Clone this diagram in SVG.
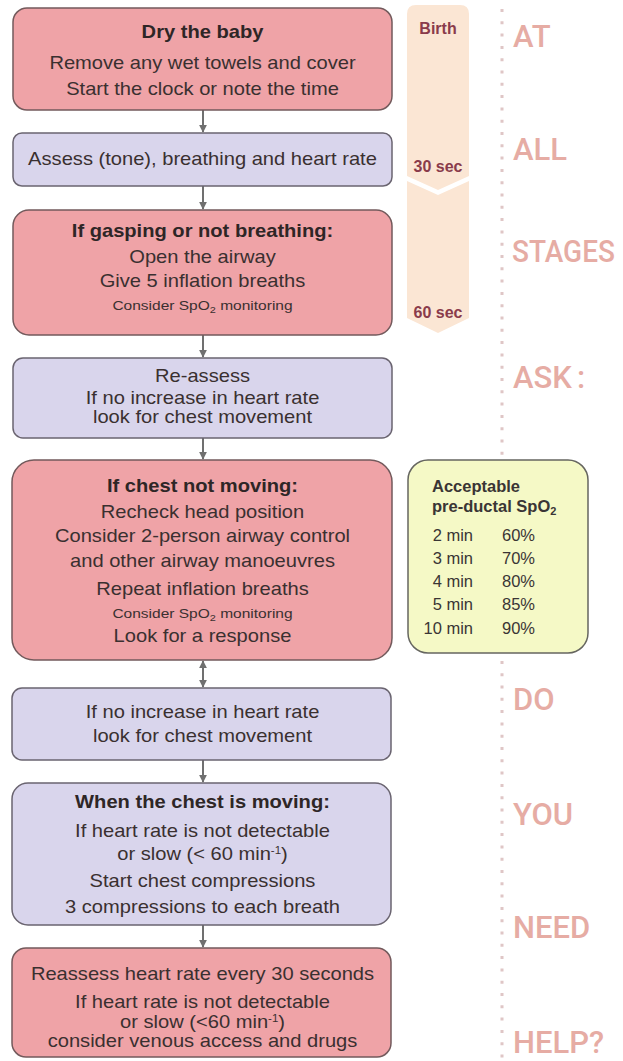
<svg xmlns="http://www.w3.org/2000/svg" width="623" height="1061" viewBox="0 0 623 1061">
<defs>
<style>
.pink{fill:#efa3a7;stroke:#735a5c;stroke-width:1.5}
.lav{fill:#d9d5ec;stroke:#6a6470;stroke-width:1.5}
.t{font-family:"Liberation Sans",Arial,sans-serif;font-size:17.5px;fill:#3a3030;text-anchor:middle}
.b{font-weight:bold;fill:#2e2626}
.s{font-size:13.5px}
.tl{font-family:"Liberation Sans",Arial,sans-serif;font-size:16px;font-weight:bold;fill:#8a3b4b;text-anchor:middle}
.big{font-family:Roboto,"Liberation Sans",sans-serif;font-size:31px;font-weight:500;fill:#e6aca4}
.sp{font-family:"Liberation Sans",Arial,sans-serif;font-size:16.5px;fill:#3a3535}
.conn{stroke:#707070;stroke-width:2;fill:none}
</style>
<marker id="ah" viewBox="0 0 10 10" refX="9" refY="5" markerWidth="4" markerHeight="4" orient="auto-start-reverse">
<path d="M0,0 L10,5 L0,10 Z" fill="#707070"/>
</marker>
</defs>
<rect width="623" height="1061" fill="#ffffff"/>

<g id="timeline">
<path d="M407,14 Q407,5 416,5 L460,5 Q469,5 469,14 L469,176 L438,190 L407,176 Z" fill="#fbe6d4"/>
<path d="M407,181 L438,195 L469,181 L469,318 L438,333 L407,318 Z" fill="#fbe6d4"/>
<text class="tl" x="438" y="34">Birth</text>
<text class="tl" x="438" y="172">30 sec</text>
<text class="tl" x="438" y="318">60 sec</text>
</g>

<g id="side-text">
<line x1="502" y1="9" x2="502" y2="1061" stroke="#dfc6c6" stroke-width="3" stroke-dasharray="3 9.3"/>
<text class="big" x="513" y="47">AT</text>
<text class="big" x="513" y="160">ALL</text>
<g transform="translate(512,262) scale(1,1.1)">
<text class="big" x="0" y="0" style="font-size:28px">STAGES</text>
</g>
<text class="big" x="513" y="388">ASK<tspan dx="5">:</tspan></text>
<text class="big" x="513" y="710">DO</text>
<text class="big" x="513" y="825">YOU</text>
<text class="big" x="513" y="938">NEED</text>
<text class="big" x="513" y="1053">HELP?</text>
</g>

<g id="connectors">
<line class="conn" x1="203" y1="110" x2="203" y2="132" marker-end="url(#ah)"/>
<line class="conn" x1="203" y1="186" x2="203" y2="209" marker-end="url(#ah)"/>
<line class="conn" x1="203" y1="335" x2="203" y2="357" marker-end="url(#ah)"/>
<line class="conn" x1="203" y1="438" x2="203" y2="459" marker-end="url(#ah)"/>
<line class="conn" x1="203" y1="661" x2="203" y2="687" marker-start="url(#ah)" marker-end="url(#ah)"/>
<line class="conn" x1="203" y1="760" x2="203" y2="782" marker-end="url(#ah)"/>
<line class="conn" x1="203" y1="925" x2="203" y2="947" marker-end="url(#ah)"/>
</g>

<g id="n1">
<rect class="pink" x="13" y="8" width="379" height="102" rx="14"/>
<g transform="translate(202.5,0) scale(1.15,1)">
<text class="t b" x="0" y="38">Dry the baby</text>
<text class="t" x="0" y="69">Remove any wet towels and cover</text>
<text class="t" x="0" y="95">Start the clock or note the time</text>
</g>
</g>

<g id="n2">
<rect class="lav" x="13" y="133" width="379" height="53" rx="9"/>
<g transform="translate(202.5,0) scale(1.15,1)">
<text class="t" x="0" y="165">Assess (tone), breathing and heart rate</text>
</g>
</g>

<g id="n3">
<rect class="pink" x="13" y="210" width="379" height="125" rx="16"/>
<g transform="translate(202.5,0) scale(1.15,1)">
<text class="t b" x="0" y="237">If gasping or not breathing:</text>
<text class="t" x="0" y="263">Open the airway</text>
<text class="t" x="0" y="287">Give 5 inflation breaths</text>
<text class="t s" x="0" y="310">Consider SpO<tspan font-size="9.5" dy="3">2</tspan><tspan dy="-3"> monitoring</tspan></text>
</g>
</g>

<g id="n4">
<rect class="lav" x="13" y="358" width="379" height="80" rx="10"/>
<g transform="translate(202.5,0) scale(1.15,1)">
<text class="t" x="0" y="382">Re-assess</text>
<text class="t" x="0" y="404">If no increase in heart rate</text>
<text class="t" x="0" y="423">look for chest movement</text>
</g>
</g>

<g id="n5">
<rect class="pink" x="12" y="460" width="380" height="200" rx="22"/>
<g transform="translate(202.5,0) scale(1.15,1)">
<text class="t b" x="0" y="492">If chest not moving:</text>
<text class="t" x="0" y="518">Recheck head position</text>
<text class="t" x="0" y="542">Consider 2-person airway control</text>
<text class="t" x="0" y="567">and other airway manoeuvres</text>
<text class="t" x="0" y="595">Repeat inflation breaths</text>
<text class="t s" x="0" y="618">Consider SpO<tspan font-size="9.5" dy="3">2</tspan><tspan dy="-3"> monitoring</tspan></text>
<text class="t" x="0" y="642">Look for a response</text>
</g>
</g>

<g id="n6">
<rect class="lav" x="12" y="688" width="379" height="72" rx="10"/>
<g transform="translate(202.5,0) scale(1.15,1)">
<text class="t" x="0" y="718">If no increase in heart rate</text>
<text class="t" x="0" y="742">look for chest movement</text>
</g>
</g>

<g id="n7">
<rect class="lav" x="12" y="783" width="379" height="142" rx="16"/>
<g transform="translate(202.5,0) scale(1.15,1)">
<text class="t b" x="0" y="808">When the chest is moving:</text>
<text class="t" x="0" y="837">If heart rate is not detectable</text>
<text class="t" x="0" y="860">or slow (&lt; 60 min<tspan font-size="10" dy="-6">-1</tspan><tspan dy="6">)</tspan></text>
<text class="t" x="0" y="887">Start chest compressions</text>
<text class="t" x="0" y="913">3 compressions to each breath</text>
</g>
</g>

<g id="n8">
<rect class="pink" x="12" y="948" width="379" height="109" rx="14"/>
<g transform="translate(202.5,0) scale(1.15,1)">
<text class="t" x="0" y="980">Reassess heart rate every 30 seconds</text>
<text class="t" x="0" y="1008">If heart rate is not detectable</text>
<text class="t" x="0" y="1028">or slow (&lt;60 min<tspan font-size="10" dy="-6">-1</tspan><tspan dy="6">)</tspan></text>
<text class="t" x="0" y="1047">consider venous access and drugs</text>
</g>
</g>

<g id="spo2">
<rect x="408" y="460" width="180" height="193" rx="20" fill="#f5f9c6" stroke="#666660" stroke-width="1.5"/>
<text class="sp" x="432" y="492" font-weight="bold" fill="#2e2a2a">Acceptable</text>
<text class="sp" x="432" y="512" font-weight="bold" fill="#2e2a2a">pre-ductal SpO<tspan font-size="11" dy="3">2</tspan></text>
<g text-anchor="end">
<text class="sp" x="473" y="541">2 min</text>
<text class="sp" x="473" y="564">3 min</text>
<text class="sp" x="473" y="587">4 min</text>
<text class="sp" x="473" y="610">5 min</text>
<text class="sp" x="473" y="634">10 min</text>
</g>
<text class="sp" x="502" y="541">60%</text>
<text class="sp" x="502" y="564">70%</text>
<text class="sp" x="502" y="587">80%</text>
<text class="sp" x="502" y="610">85%</text>
<text class="sp" x="502" y="634">90%</text>
</g>
</svg>
